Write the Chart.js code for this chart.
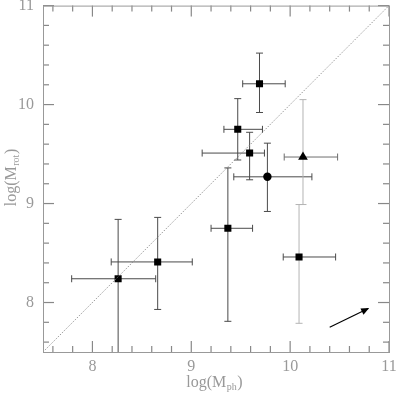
<!DOCTYPE html>
<html>
<head>
<meta charset="utf-8">
<script src="https://cdn.jsdelivr.net/npm/chart.js@4/dist/chart.umd.min.js"></script>
<style>
  body { margin: 0; background: #fff; }
  canvas { display: block; }
</style>
</head>
<body>
<canvas id="plot" width="398" height="395"></canvas>
<script>
// measured values, log(M_ph) vs log(M_rot)
var xVals = [9.69, 9.47, 9.59, 9.77, 10.13, 9.37, 10.09, 8.26, 8.66];
var yVals = [10.21, 9.75, 9.51, 9.27, 9.47, 8.75, 8.46, 8.24, 8.41];
var xLo = [9.52, 9.33, 9.11, 9.43, 9.94, 9.20, 9.93, 7.79, 8.19];
var xHi = [9.95, 9.72, 9.74, 10.22, 10.48, 9.62, 10.46, 8.64, 9.01];
var yLo = [9.92, 9.44, 9.24, 8.92, 8.99, 7.81, 7.79, 7.40, 7.93];
var yHi = [10.52, 10.06, 9.72, 9.61, 10.05, 9.36, 8.99, 8.84, 8.86];
var markers = ['rect', 'rect', 'rect', 'circle', 'triangle', 'rect', 'rect', 'rect', 'rect'];
// shade of each error bar: 0 dark, 1 medium, 2 light
var xBarShade = [0, 0, 0, 0, 1, 0, 0, 0, 0];
var yBarShade = [0, 0, 0, 0, 2, 0, 2, 0, 0];

var majorTicks = [8, 9, 10, 11];
var minorTicks = [7.6, 7.8, 8.2, 8.4, 8.6, 8.8, 9.2, 9.4, 9.6, 9.8, 10.2, 10.4, 10.6, 10.8];
var oneToOne = [7.5, 11];
var arrowX = [10.40, 10.79];
var arrowY = [7.75, 7.94];

var points = xVals.map(function (x, i) { return { x: x, y: yVals[i] }; });

var axisColor = '#999999';
var tickColor = '#888888';
var barColors = ['#4a4a4a', '#6e6e6e', '#b4b4b4'];
var font = '"Liberation Serif", "DejaVu Serif", serif';

var errorBars = {
    id: 'errorBars',
    beforeDatasetsDraw: function (chart) {
        var ctx = chart.ctx, xs = chart.scales.x, ys = chart.scales.y, a = chart.chartArea;
        var cap = 3.5;
        ctx.save();
        ctx.beginPath();
        ctx.rect(a.left, a.top, a.right - a.left, a.bottom - a.top);
        ctx.clip();
        ctx.lineWidth = 1;
        for (var i = 0; i < xVals.length; i++) {
            var px = xs.getPixelForValue(xVals[i]);
            var py = ys.getPixelForValue(yVals[i]);
            var x0 = xs.getPixelForValue(xLo[i]), x1 = xs.getPixelForValue(xHi[i]);
            var y0 = ys.getPixelForValue(yLo[i]), y1 = ys.getPixelForValue(yHi[i]);
            ctx.strokeStyle = barColors[xBarShade[i]];
            ctx.beginPath();
            ctx.moveTo(x0, py); ctx.lineTo(x1, py);
            ctx.moveTo(x0, py - cap); ctx.lineTo(x0, py + cap);
            ctx.moveTo(x1, py - cap); ctx.lineTo(x1, py + cap);
            ctx.stroke();
            ctx.strokeStyle = barColors[yBarShade[i]];
            ctx.beginPath();
            ctx.moveTo(px, y0); ctx.lineTo(px, y1);
            ctx.moveTo(px - cap, y0); ctx.lineTo(px + cap, y0);
            ctx.moveTo(px - cap, y1); ctx.lineTo(px + cap, y1);
            ctx.stroke();
        }
        ctx.restore();
    }
};

var frame = {
    id: 'frame',
    afterDraw: function (chart) {
        var ctx = chart.ctx, xs = chart.scales.x, ys = chart.scales.y, a = chart.chartArea;
        ctx.save();
        ctx.lineWidth = 1.2;
        ctx.strokeStyle = tickColor;
        // inward ticks on all four sides
        var all = minorTicks.concat(majorTicks);
        for (var i = 0; i < all.length; i++) {
            var v = all[i];
            var len = majorTicks.indexOf(v) >= 0 ? 11 : 6;
            var px = xs.getPixelForValue(v);
            var py = ys.getPixelForValue(v);
            ctx.beginPath();
            ctx.moveTo(px, a.bottom);
            ctx.lineTo(px, a.bottom - len);
            ctx.stroke();
            ctx.beginPath();
            ctx.moveTo(px, a.top);
            ctx.lineTo(px, a.top + len);
            ctx.stroke();
            ctx.beginPath();
            ctx.moveTo(a.left, py);
            ctx.lineTo(a.left + len, py);
            ctx.stroke();
            ctx.beginPath();
            ctx.moveTo(a.right, py);
            ctx.lineTo(a.right - len, py);
            ctx.stroke();
        }
        ctx.lineWidth = 1;
        ctx.strokeStyle = axisColor;
        ctx.strokeRect(a.left + 0.5, a.top + 0.5, a.right - a.left, a.bottom - a.top);

        // tick labels
        ctx.fillStyle = axisColor;
        ctx.font = '16px ' + font;
        ctx.textBaseline = 'middle';
        majorTicks.forEach(function (t) {
            ctx.textAlign = 'center';
            ctx.fillText(String(t), xs.getPixelForValue(t), a.bottom + 15);
            ctx.textAlign = 'right';
            ctx.fillText(String(t), a.left - 9, ys.getPixelForValue(t));
        });

        // axis titles with subscripts
        var title = function (main, sub, cx, cy) {
            ctx.font = '16px ' + font;
            var w1 = ctx.measureText(main).width;
            var w3 = ctx.measureText(')').width;
            ctx.font = '10px ' + font;
            var w2 = ctx.measureText(sub).width;
            var x = cx - (w1 + w2 + w3) / 2;
            ctx.textAlign = 'left';
            ctx.font = '16px ' + font;
            ctx.fillText(main, x, cy);
            ctx.font = '10px ' + font;
            ctx.fillText(sub, x + w1 + 0.5, cy + 4);
            ctx.font = '16px ' + font;
            ctx.fillText(')', x + w1 + w2 + 1, cy);
        };
        title('log(M', 'ph', 214, a.bottom + 31);
        ctx.translate(12, 178);
        ctx.rotate(-Math.PI / 2);
        title('log(M', 'rot', 0, 0);
        ctx.restore();

        // arrow head
        var ax0 = xs.getPixelForValue(arrowX[0]), ay0 = ys.getPixelForValue(arrowY[0]);
        var ax1 = xs.getPixelForValue(arrowX[1]), ay1 = ys.getPixelForValue(arrowY[1]);
        var ang = Math.atan2(ay1 - ay0, ax1 - ax0);
        ctx.save();
        ctx.fillStyle = '#000';
        ctx.translate(ax1, ay1);
        ctx.rotate(ang);
        ctx.beginPath();
        ctx.moveTo(1, 0);
        ctx.lineTo(-7, -3.5);
        ctx.lineTo(-7, 3.5);
        ctx.closePath();
        ctx.fill();
        ctx.restore();
    }
};

new Chart(document.getElementById('plot'), {
    type: 'scatter',
    data: {
        datasets: [
            {
                type: 'line',
                data: oneToOne.map(function (v) { return { x: v, y: v }; }),
                borderColor: '#808080',
                borderWidth: 0.8,
                borderDash: [1.5, 1.5],
                pointRadius: 0,
                fill: false
            },
            {
                type: 'line',
                data: arrowX.map(function (v, i) { return { x: v, y: arrowY[i] }; }),
                borderColor: '#000',
                borderWidth: 1.2,
                pointRadius: 0,
                fill: false
            },
            {
                data: points,
                pointStyle: markers,
                pointRadius: markers.map(function (m) { return m === 'rect' ? 5 : (m === 'circle' ? 4.2 : 5.6); }),
                backgroundColor: '#000',
                borderColor: '#000',
                borderWidth: 0
            }
        ]
    },
    options: {
        responsive: false,
        animation: false,
        layout: { padding: { left: 43, right: 9, top: 5, bottom: 43 } },
        plugins: { legend: { display: false }, tooltip: { enabled: false } },
        scales: {
            x: { type: 'linear', min: 7.5, max: 11, display: false },
            y: { type: 'linear', min: 7.5, max: 11, display: false }
        }
    },
    plugins: [errorBars, frame]
});
</script>
</body>
</html>
